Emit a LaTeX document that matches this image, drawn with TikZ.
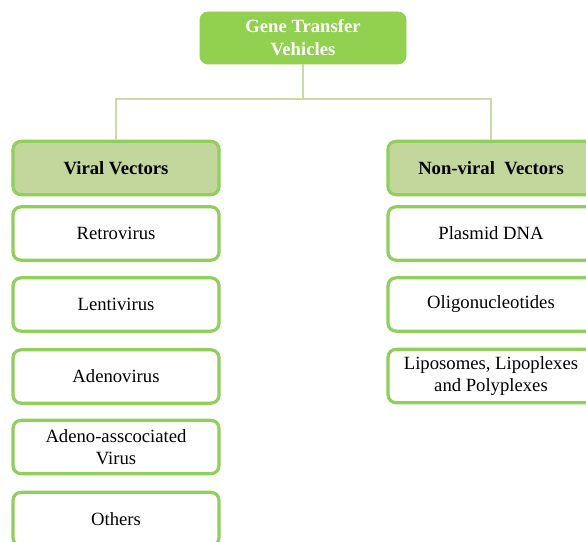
\documentclass[tikz,border=0pt]{standalone}
\usepackage{fontspec}
\setmainfont{Liberation Serif}
\definecolor{topgreen}{HTML}{92D050}
\definecolor{headfill}{HTML}{C3D69B}
\definecolor{boxline}{HTML}{8FD05A}
\definecolor{connline}{HTML}{C8DCA4}
\begin{document}
\begin{tikzpicture}[x=0.75pt,y=-0.75pt,
  base/.style={rectangle, rounded corners=6pt, minimum width=154.5pt, minimum height=40pt,
    align=center, inner sep=1pt, font=\fontsize{14}{16.5}\selectfont},
  topbox/.style={base, fill=topgreen, draw=topgreen, line width=0.6pt, text=white,
    minimum height=39pt, font=\bfseries\fontsize{14}{17.25}\selectfont},
  headbox/.style={base, fill=headfill, draw=boxline, line width=2.4pt, font=\bfseries\fontsize{14}{16.5}\selectfont},
  itembox/.style={base, fill=white, draw=boxline, line width=2.4pt},
  conn/.style={draw=connline, line width=1.2pt}]
\useasboundingbox (0,0) rectangle (586,542);
\clip (0,0) rectangle (586,542);
\fill[white] (0,0) rectangle (586,542);

\node[topbox] (top) at (303,38) {Gene Transfer\\Vehicles};

\node[headbox] (viral) at (116,168) {Viral Vectors};
\node[itembox] (retro) at (116,233.5) {Retrovirus};
\node[itembox] (lenti) at (116,304.5) {Lentivirus};
\node[itembox] (adeno) at (116,376.5) {Adenovirus};
\node[itembox] (aav) at (116,447) {Adeno-asscociated\\Virus};
\node[itembox] (others) at (116,519) {Others};

\node[headbox] (nonviral) at (491,168) {Non-viral\ \ Vectors};
\node[itembox] (plasmid) at (491,233.5) {Plasmid DNA};
\node[itembox] (oligo) at (491,304.5) {Oligonucleotides};
\node[itembox] (lipo) at (491,376) {Liposomes, Lipoplexes\\and Polyplexes};

\coordinate (bus) at (303,99);
\draw[conn] (top.south) -- (bus);
\draw[conn] (viral.north) |- (bus) -| (nonviral.north);
\end{tikzpicture}
\end{document}
